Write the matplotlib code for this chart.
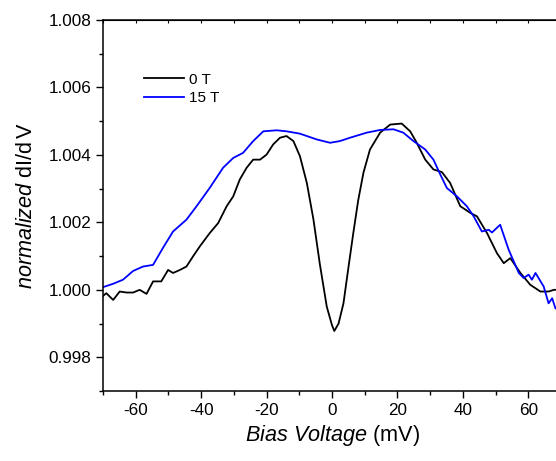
import matplotlib.pyplot as plt

plt.rcParams['font.family'] = 'Liberation Sans'
plt.rcParams['mathtext.fontset'] = 'custom'
plt.rcParams['mathtext.rm'] = 'Liberation Sans'
plt.rcParams['mathtext.it'] = 'Liberation Sans:italic'
plt.rcParams['axes.unicode_minus'] = False

# 0 T
bias_0T = [-70, -69, -66.9, -64.9, -62.8, -60.8, -58.8, -56.7, -54.7, -52.2, -50.1, -48.6,
           -46.5, -44.5, -42.5, -40.4, -37.4, -34.8, -32.2, -30.2, -28.2, -26.1, -24.1, -22.0,
           -20.0, -18.0, -15.9, -13.9, -11.8, -9.8, -7.7, -5.7, -3.7, -1.6, 0.0, 0.7, 2.0, 3.5,
           5.0, 6.5, 8.0, 9.6, 11.6, 14.7, 17.8, 21.3, 23.9, 25.9, 28.5, 31.0, 33.6, 36.1, 39.2,
           42.3, 44.3, 47.4, 50.4, 52.5, 54.5, 57.6, 60.6, 63.7, 66.2, 67.8, 70]
didv_0T = [0.99982, 0.9999, 0.99970, 0.99995, 0.99992, 0.99992, 1.00000, 0.99988, 1.00025, 1.00025,
           1.00059, 1.00050, 1.00059, 1.00069, 1.00099, 1.00129, 1.00168, 1.00198, 1.00248, 1.00277,
           1.00327, 1.00362, 1.00386, 1.00386, 1.00401, 1.00431, 1.00451, 1.00456, 1.00441, 1.00396,
           1.00317, 1.00210, 1.00075, 0.99950, 0.99895, 0.99878, 0.99900, 0.99960, 1.00065, 1.00168,
           1.00265, 1.00347, 1.00416, 1.00466, 1.00490, 1.00493, 1.00470, 1.00436, 1.00386, 1.00357,
           1.00349, 1.00317, 1.00248, 1.00228, 1.00218, 1.00168, 1.00109, 1.00079, 1.00094, 1.00050,
           1.00015, 0.99995, 0.99995, 1.00000, 1.00000]

# 15 T
bias_15T = [-70, -66.9, -63.9, -60.8, -57.8, -54.7, -51.7, -48.6, -44.5, -41.4, -37.4, -33.3,
            -30.2, -27.2, -24.1, -21.0, -16.9, -13.9, -9.8, -4.7, -0.6, 2.4, 5.5, 10.6, 14.7,
            18.8, 21.8, 24.9, 28.5, 31.0, 33.1, 35.1, 38.2, 41.2, 43.3, 45.8, 47.9, 48.9, 51.4,
            54.0, 57.1, 58.6, 60.1, 61.1, 62.2, 64.7, 66.2, 67.3, 68.3, 70]
didv_15T = [1.00008, 1.00018, 1.00030, 1.00056, 1.00069, 1.00074, 1.00124, 1.00173, 1.00208, 1.00248,
            1.00302, 1.00362, 1.00391, 1.00406, 1.00441, 1.00470, 1.00473, 1.00470, 1.00463, 1.00446,
            1.00436, 1.00441, 1.00451, 1.00466, 1.00474, 1.00476, 1.00466, 1.00441, 1.00416, 1.00386,
            1.00342, 1.00302, 1.00277, 1.00248, 1.00218, 1.00173, 1.00178, 1.00170, 1.00193, 1.00119,
            1.00050, 1.00035, 1.00045, 1.00030, 1.00050, 1.00010, 0.99960, 0.99975, 0.99945, 0.99940]

fig = plt.figure(figsize=(5.56, 4.61), dpi=100)
ax = fig.add_axes([0.1853, 0.1518, 0.8237, 0.8048])

ax.plot(bias_0T, didv_0T, color='black', lw=1.3, label='0 T')
ax.plot(bias_15T, didv_15T, color='#0000ff', lw=1.3, label='15 T')

ax.set_xlim(-70, 70)
ax.set_ylim(0.997, 1.008)
ax.set_xticks([-60, -40, -20, 0, 20, 40, 60])
ax.set_xticks(range(-70, 71, 10), minor=True)
ax.set_yticks([0.998, 1.000, 1.002, 1.004, 1.006, 1.008])
ax.set_yticklabels(['0.998', '1.000', '1.002', '1.004', '1.006', '1.008'])
ax.set_yticks([0.997, 0.999, 1.001, 1.003, 1.005, 1.007], minor=True)
ax.tick_params(which='major', direction='out', length=5, width=1, labelsize=12.3)
ax.tick_params(which='minor', direction='out', length=3, width=1)
ax.spines['right'].set_visible(False)
for s in ['left', 'bottom', 'top']:
    ax.spines[s].set_linewidth(1.1)

top = ax.secondary_xaxis('top')
top.set_xticks(range(-70, 71, 10))
top.set_xticklabels([])
top.tick_params(direction='in', length=2, width=0.8)

ax.set_xlabel(r'$\it{Bias\ Voltage}$ (mV)', fontsize=15.6, labelpad=4)
ax.set_ylabel(r'$\it{normalized}$ dI/d$\,$V', fontsize=15.6, labelpad=8)

ax.legend(loc='upper left', bbox_to_anchor=(0.06, 0.895), frameon=False, fontsize=11,
          handlelength=2.6, handletextpad=0.3, labelspacing=0.3)

fig.savefig('out.png', dpi=100)
